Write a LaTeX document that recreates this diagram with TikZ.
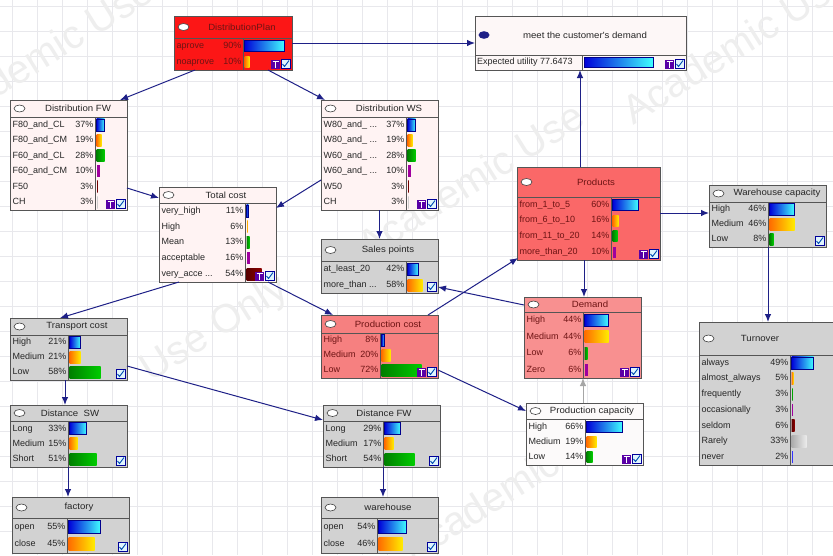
\documentclass[tikz,border=0pt]{standalone}
\usepackage{fontspec}
\setmainfont{Liberation Sans}
\newfontfamily\ttlfont{Liberation Sans}[FakeStretch=1.07]
\usetikzlibrary{arrows.meta,calc}

\definecolor{edgec}{RGB}{30,32,135}
\definecolor{redfill}{RGB}{252,22,22}
\definecolor{prodfill}{RGB}{250,104,104}
\definecolor{pcfill}{RGB}{246,128,128}
\definecolor{demfill}{RGB}{248,144,144}
\definecolor{grayfill}{RGB}{210,210,210}
\definecolor{pinkfill}{RGB}{255,243,243}
\definecolor{meetfill}{RGB}{253,247,247}
\definecolor{capfill}{RGB}{252,250,250}
\definecolor{boxline}{RGB}{85,85,85}
\definecolor{gridc}{RGB}{232,232,236}
\definecolor{darkred}{RGB}{110,20,20}

\newcommand\dd{...}

\tikzset{
 bnbox/.style={draw=boxline, line width=0.9pt, inner sep=0pt, outer sep=0pt, rectangle},
 bnsep/.style={draw=boxline, line width=0.8pt},
 ttl/.style={font=\ttlfont\fontsize{9}{10}\selectfont, inner sep=0pt, text=black!85},
 rtxt/.style={font=\fontsize{9}{10}\selectfont, inner sep=0pt, text=black!85, text height=6.5pt, text depth=1.8pt},
 conn/.style={draw=edgec, line width=1pt, -{Latex[length=8pt,width=6.5pt]}},
 connG/.style={draw=gray!70, line width=1pt, -{Latex[length=8pt,width=6.5pt]}},
 wm/.style={font=\fontsize{40}{40}\selectfont, text=gray!13, rotate=32, inner sep=0pt},
 redtext/.style={rtxt/.append style={text=darkred}, ttl/.append style={text=darkred}},
 barA/.style={left color=blue!85!black, right color=cyan!75!white, draw=blue!55!black, line width=0.5pt},
 barB/.style={left color=orange!85!red, right color=yellow!85!orange},
 barC/.style={left color=green!50!black, right color=green!80!black},
 barD/.style={fill=violet!75!magenta},
 barE/.style={left color=red!35!black, right color=red!55!black},
 barF/.style={left color=gray!65, right color=gray!15},
 barG/.style={fill=blue!80},
}

\newcommand\bnbox[9]{%
  \node[bnbox, fill=#8, minimum width=#4pt, minimum height=#5pt, anchor=north west] (#1) at (#2,#3) {};
  \draw[bnsep] (#2,#3+#6) -- ++(#4,0);
  \node[ttl] (#1-t) at (#9,#3+#6/2) {#7};
  \draw[draw=black!75, fill=white, line width=0.6pt] (#2+9.5,#3+#6/2) ellipse [x radius=5.5, y radius=3.5];
}
\newcommand\bnrows[8]{%
  \draw[bnsep] (#5,#3) -- (#5,#7);
  \foreach \lab/\pct/\len/\st [count=\i] in {#8} {
    \node[rtxt, anchor=west] (#1-l\i) at (#2+2.5,{#3+(\i-0.5)*#4}) {\lab};
    \node[rtxt, anchor=east] (#1-p\i) at (#5-1.5,{#3+(\i-0.5)*#4}) {\pct\%};
    \path[\st] (#5+1.5,{#3+(\i-0.5)*#4-#6/2}) rectangle ++(\len,#6);
  }
}
\newcommand\bnchk[1]{%
  \draw[draw=blue!60!black, fill=cyan!12, line width=0.4pt] ($(#1.south east)+(-11,-1.5)$) rectangle ++(9,-9);
  \draw[draw=teal!60!blue, line width=0.9pt] ($(#1.south east)+(-9.5,-6)$) -- ++(2,2.5) -- ++(4.5,-6);
}
\newcommand\bnT[1]{%
  \fill[violet!70!blue] ($(#1.south east)+(-21,-1.5)$) rectangle ++(9,-9);
  \draw[white, line width=0.7pt] ($(#1.south east)+(-19.5,-8.5)$) -- ++(6,0) ($(#1.south east)+(-16.5,-8.5)$) -- ++(0,6);
}

\begin{document}
\begin{tikzpicture}[x=1pt,y=-1pt]
\useasboundingbox (0,0) rectangle (833,555);
\clip (0,0) rectangle (833,555);
\fill[white] (0,0) rectangle (833,555);
\foreach \gx in {12,37,...,837} \draw[gridc, line width=0.5pt] (\gx,0) -- (\gx,555);
\foreach \gy in {6,31,...,556} \draw[gridc, line width=0.5pt] (0,\gy) -- (833,\gy);

% watermark
\node[wm] (w1) at (40,55) {Academic Use};
\node[wm] (w2) at (735,45) {Academic Use};
\node[wm] (w3) at (470,180) {Academic Use};
\node[wm] (w4) at (215,330) {Use Only};
\node[wm] (w5) at (480,505) {Academic};

% DistributionPlan
\begin{scope}[redtext]
\bnbox{dp}{174}{16}{118}{54}{22}{DistributionPlan}{redfill}{242}
\bnrows{dp}{174}{38}{16}{243}{11}{70}{aprove/90/40/barA, noaprove/10/5/barB}
\end{scope}
\bnT{dp}\bnchk{dp}

% meet the customer's demand
\node[bnbox, fill=meetfill, minimum width=211pt, minimum height=54pt, anchor=north west] (meet) at (475,16) {};
\draw[bnsep] (475,55) -- (686,55);
\draw[bnsep] (582,55) -- (582,70);
\node[ttl] (meet-t) at (585,35) {meet the customer's demand};
\fill[edgec] (484,35) ellipse [x radius=5.5, y radius=3.8];
\node[rtxt, anchor=west] (meet-u) at (477,62.5) {Expected utility 77.6473};
\path[barA] (584,57.5) rectangle ++(69,10);
\bnT{meet}\bnchk{meet}

% Distribution FW
\bnbox{dfw}{10}{100}{117}{110}{17}{Distribution FW}{pinkfill}{78}
\bnrows{dfw}{10}{117}{15.5}{95}{12}{210}{F80\_and\_CL/37/8/barA, F80\_and\_CM/19/5/barB, F60\_and\_CL/28/8/barC, F60\_and\_CM/10/3/barD, F50/3/1/barE, CH/3/1/barF}
\bnT{dfw}\bnchk{dfw}

% Distribution WS
\bnbox{dws}{321}{100}{117}{110}{17}{Distribution WS}{pinkfill}{389}
\bnrows{dws}{321}{117}{15.5}{406}{12}{210}{W80\_and\_ \dd/37/8/barA, W80\_and\_ \dd/19/5/barB, W60\_and\_ \dd/28/8/barC, W60\_and\_ \dd/10/3/barD, W50/3/1/barE, CH/3/1/barF}
\bnT{dws}\bnchk{dws}

% Total cost
\bnbox{tc}{159}{187}{117}{95}{16}{Total cost}{pinkfill}{226}
\bnrows{tc}{159}{203}{15.8}{245}{12}{282}{very\_high/11/2/barA, High/6/1/barB, Mean/13/3/barC, acceptable/16/3/barD, very\_acce \dd/54/15/barE}
\bnT{tc}\bnchk{tc}

% Sales points
\bnbox{sp}{321}{239}{117}{54}{22}{Sales points}{grayfill}{388}
\bnrows{sp}{321}{261}{16}{406}{12}{293}{at\_least\_20/42/11/barA, more\_than \dd/58/15/barB}
\bnchk{sp}

% Products
\begin{scope}[redtext]
\bnbox{prod}{517}{167}{143}{93}{30}{Products}{prodfill}{596}
\bnrows{prod}{517}{197}{15.75}{611}{11}{260}{from\_1\_to\_5/60/26/barA, from\_6\_to\_10/16/6/barB, from\_11\_to\_20/14/5/barC, more\_than\_20/10/3/barD}
\end{scope}
\bnT{prod}\bnchk{prod}

% Warehouse capacity
\bnbox{whc}{709}{185}{117}{62}{17}{Warehouse capacity}{grayfill}{777}
\bnrows{whc}{709}{202}{15}{768}{12}{247}{High/46/25/barA, Medium/46/25/barB, Low/8/4/barC}
\bnchk{whc}

% Transport cost
\bnbox{tr}{10}{318}{117}{62}{17}{Transport cost}{grayfill}{77}
\bnrows{tr}{10}{335}{15}{68}{12}{380}{High/21/11/barA, Medium/21/11/barB, Low/58/31/barC}
\bnchk{tr}

% Production cost
\begin{scope}[redtext]
\bnbox{pc}{321}{315}{117}{63}{18}{Production cost}{pcfill}{388}
\bnrows{pc}{321}{333}{15}{380}{12}{378}{High/8/3/barA, Medium/20/9/barB, Low/72/40/barC}
\end{scope}
\bnT{pc}\bnchk{pc}

% Demand
\begin{scope}[redtext]
\bnbox{dem}{524}{297}{117}{81}{15}{Demand}{demfill}{590}
\bnrows{dem}{524}{312}{16.5}{583}{12}{378}{High/44/24/barA, Medium/44/24/barB, Low/6/3/barC, Zero/6/3/barD}
\end{scope}
\bnT{dem}\bnchk{dem}

% Production capacity
\bnbox{cap}{526}{403}{117}{62}{16}{Production capacity}{capfill}{592}
\bnrows{cap}{526}{419}{15.3}{585}{11}{465}{High/66/36/barA, Medium/19/10/barB, Low/14/6/barC}
\bnT{cap}\bnchk{cap}

% Turnover
\bnbox{turn}{699}{322}{150}{143}{33}{Turnover}{grayfill}{760}
\bnrows{turn}{699}{355}{15.7}{790}{12}{465}{always/49/22/barA, almost\_always/5/2/barB, frequently/3/1/barC, occasionally/3/1/barD, seldom/6/3/barE, Rarely/33/15/barF, never/2/1/barG}

% Distance SW
\bnbox{dsw}{10}{405}{117}{62}{16}{Distance \ SW}{grayfill}{70}
\bnrows{dsw}{10}{421}{15.3}{68}{12}{467}{Long/33/17/barA, Medium/15/8/barB, Short/51/27/barC}
\bnchk{dsw}

% Distance FW
\bnbox{dfwb}{323}{405}{117}{62}{16}{Distance FW}{grayfill}{384}
\bnrows{dfwb}{323}{421}{15.3}{383}{12}{467}{Long/29/16/barA, Medium/17/9/barB, Short/54/30/barC}
\bnchk{dfwb}

% factory
\bnbox{fac}{12}{497}{117}{56}{21}{factory}{grayfill}{79}
\bnrows{fac}{12}{518}{17.5}{67}{13}{553}{open/55/32/barA, close/45/26/barB}
\bnchk{fac}

% warehouse
\bnbox{wh}{321}{497}{117}{56}{21}{warehouse}{grayfill}{388}
\bnrows{wh}{321}{518}{17.5}{377}{13}{553}{open/54/28/barA, close/46/24/barB}
\bnchk{wh}

% connectors
\draw[conn] (dp.east) -- (meet.west);
\draw[conn] ($(dp.south west)+(21,0)$) -- ($(dfw.north east)+(-7,0)$);
\draw[conn] ($(dp.south east)+(-24,0)$) -- ($(dws.north west)+(4,0)$);
\draw[conn] ($(dfw.south east)+(0,-22)$) -- ($(tc.north west)+(0,11)$);
\draw[conn] ($(dws.south west)+(0,-30)$) -- ($(tc.north east)+(0,21)$);
\draw[conn] (dws.south) -- (sp.north);
\draw[conn] ($(tc.south west)+(20,0)$) -- ($(tr.north west)+(50,0)$);
\draw[conn] ($(tc.south east)+(-8,0)$) -- ($(pc.north west)+(12,0)$);
\draw[conn] ($(tr.south west)+(55,0)$) -- ($(dsw.north west)+(55,0)$);
\draw[conn] ($(tr.south east)+(0,-14)$) -- ($(dfwb.north west)+(0,15)$);
\draw[conn] ($(dsw.south west)+(58,0)$) -- ($(fac.north west)+(56,0)$);
\draw[conn] ($(dfwb.south west)+(60,0)$) -- ($(wh.north west)+(62,0)$);
\draw[conn] ($(pc.north east)+(-10,0)$) -- ($(prod.south west)+(1,-2)$);
\draw[conn] ($(pc.south east)+(0,-8)$) -- ($(cap.north west)+(0,8)$);
\draw[conn] ($(dem.north west)+(0,8)$) -- ($(sp.south east)+(0,-6)$);
\draw[connG] ($(cap.north west)+(57,0)$) -- ($(dem.south west)+(59,0)$);
\draw[conn] ($(prod.north west)+(63,0)$) -- ($(meet.south west)+(105,0)$);
\draw[conn] ($(prod.south west)+(67,0)$) -- ($(dem.north west)+(60,0)$);
\draw[conn] ($(prod.north east)+(0,46)$) -- ($(whc.north west)+(0,28)$);
\draw[conn] ($(whc.south west)+(59,0)$) -- ($(turn.north west)+(69,0)$);
\end{tikzpicture}
\end{document}
